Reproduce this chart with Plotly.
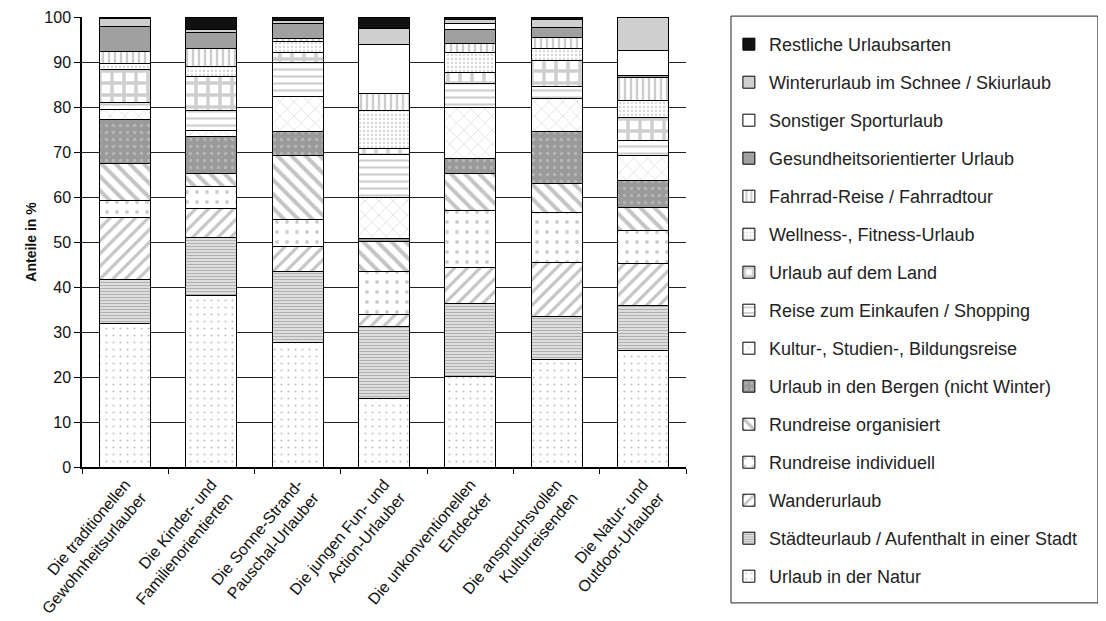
import plotly.graph_objects as go

categories = [
    "Die traditionellen<br>Gewohnheitsurlauber",
    "Die Kinder- und<br>Familienorientierten",
    "Die Sonne-Strand-<br>Pauschal-Urlauber",
    "Die jungen Fun- und<br>Action-Urlauber",
    "Die unkonventionellen<br>Entdecker",
    "Die anspruchsvollen<br>Kulturreisenden",
    "Die Natur- und<br>Outdoor-Urlauber",
]

natur = [31.9, 38.2, 27.6, 15.3, 20.1, 23.9, 26.0]
staedte = [9.8, 12.9, 15.8, 16.0, 16.3, 9.6, 10.0]
wander = [13.7, 6.4, 5.6, 2.5, 7.9, 11.9, 9.3]
rund_ind = [3.9, 4.9, 5.9, 9.6, 12.8, 11.1, 7.3]
rund_org = [8.1, 2.8, 14.4, 6.7, 8.1, 6.5, 5.1]
berge = [9.8, 8.3, 5.2, 0.7, 3.4, 11.5, 6.0]
kultur = [2.3, 1.3, 7.9, 9.2, 11.3, 7.4, 5.6]
einkaufen = [1.6, 4.5, 7.4, 9.5, 5.4, 2.7, 3.3]
land = [7.2, 7.5, 2.4, 1.3, 2.3, 5.8, 5.1]
wellness = [1.3, 2.1, 2.3, 8.5, 4.6, 2.6, 3.8]
fahrrad = [2.8, 4.1, 0.7, 3.8, 1.9, 2.4, 5.0]
gesundheit = [5.4, 3.5, 3.3, 0.0, 3.1, 2.2, 0.6]
sport = [0.0, 0.0, 0.0, 10.8, 1.3, 0.0, 5.5]
winter = [1.9, 0.7, 0.8, 3.5, 1.0, 1.8, 7.4]
restliche = [0.3, 2.8, 0.7, 2.6, 0.5, 0.6, 0.0]

series_names = [
    "Urlaub in der Natur",
    "Städteurlaub / Aufenthalt in einer Stadt",
    "Wanderurlaub",
    "Rundreise individuell",
    "Rundreise organisiert",
    "Urlaub in den Bergen (nicht Winter)",
    "Kultur-, Studien-, Bildungsreise",
    "Reise zum Einkaufen / Shopping",
    "Urlaub auf dem Land",
    "Wellness-, Fitness-Urlaub",
    "Fahrrad-Reise / Fahrradtour",
    "Gesundheitsorientierter Urlaub",
    "Sonstiger Sporturlaub",
    "Winterurlaub im Schnee / Skiurlaub",
    "Restliche Urlaubsarten",
]
series_values = [natur, staedte, wander, rund_ind, rund_org, berge, kultur,
                 einkaufen, land, wellness, fahrrad, gesundheit, sport, winter, restliche]

# (shape, fgcolor, bgcolor, size, solidity)
styles = [
    (".", "#8a8a8a", "#ffffff", 7, 0.08),
    ("-", "#7a7a7a", "#e6e6e6", 3, 0.45),
    ("/", "#8a8a8a", "#ffffff", 9, 0.35),
    (".", "#9a9a9a", "#ffffff", 10, 0.12),
    ("\\", "#8a8a8a", "#ffffff", 10, 0.4),
    (".", "#d0d0d0", "#9a9a9a", 7, 0.18),
    ("x", "#a8a8a8", "#ffffff", 10, 0.12),
    ("-", "#9a9a9a", "#ffffff", 7, 0.3),
    ("+", "#a0a0a0", "#ffffff", 12, 0.5),
    (".", "#b0b0b0", "#ffffff", 4, 0.3),
    ("|", "#9a9a9a", "#ffffff", 6, 0.4),
    ("", "#a0a0a0", "#a0a0a0", 8, 0.3),
    ("", "#ffffff", "#ffffff", 8, 0.3),
    ("", "#cfcfcf", "#cfcfcf", 8, 0.3),
    ("", "#111111", "#111111", 8, 0.3),
]

fig = go.Figure()
for i, (name, vals, st) in enumerate(zip(series_names, series_values, styles)):
    shape, fg, bg, size, sol = st
    marker = dict(color=bg, line=dict(color="#000000", width=1))
    if shape:
        marker["pattern"] = dict(shape=shape, fgcolor=fg, bgcolor=bg, size=size,
                                 solidity=sol, fillmode="overlay")
    fig.add_trace(go.Bar(x=categories, y=vals, name=name, marker=marker,
                         legendgroup=f"g{i}", legendrank=100 - i))

# legend frame drawn as a paper-referenced rectangle
fig.add_shape(type="rect", xref="paper", yref="paper",
              x0=1.0745, x1=1.682, y0=-0.302, y1=1.002,
              line=dict(color="#222222", width=1), fillcolor="rgba(0,0,0,0)",
              layer="below")

fig.update_layout(
    barmode="stack",
    bargap=0.41,
    width=1098, height=613,
    margin=dict(l=74, r=420, t=9, b=154, autoexpand=False),
    paper_bgcolor="white", plot_bgcolor="white",
    font=dict(family="Liberation Sans, Arial, sans-serif", color="#111111", size=14),
    legend=dict(
        x=1.071, y=0.98, xanchor="left", yanchor="top",
        traceorder="grouped", tracegroupgap=11.6,
        bgcolor="rgba(0,0,0,0)", borderwidth=0,
        font=dict(size=18, color="#222222"),
        itemwidth=30,
        maxheight=610,
    ),
    showlegend=True,
)
fig.update_yaxes(
    range=[0, 100], dtick=10, tick0=0,
    showgrid=True, gridcolor="#222222", gridwidth=1,
    showline=True, linecolor="#000000", linewidth=1.5,
    ticks="outside", ticklen=6, tickcolor="#000000",
    tickfont=dict(size=16, color="#111111"),
    title=dict(text="<b>Anteile in %</b>", font=dict(size=14), standoff=4),
    zeroline=False, automargin=False,
)
fig.update_xaxes(
    tickangle=-50,
    showline=True, linecolor="#000000", linewidth=1.5,
    ticks="outside", ticklen=5, tickson="boundaries", tickcolor="#000000",
    tickfont=dict(size=16, color="#111111"),
    automargin=False,
)

fig.write_html("out.html")
